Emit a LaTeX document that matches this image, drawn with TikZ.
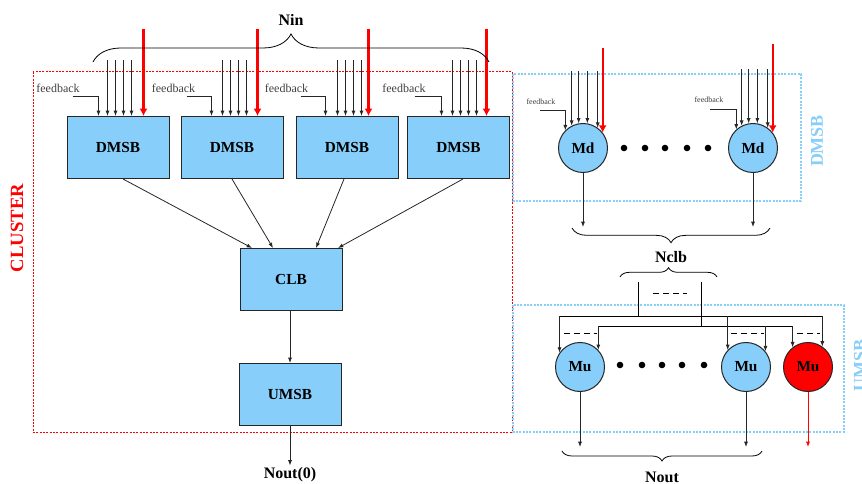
\documentclass[tikz,border=0pt]{standalone}
\usepackage{fontspec}
\setmainfont{Liberation Serif}
\usetikzlibrary{arrows.meta,calc,decorations.pathreplacing}
\definecolor{skyb}{RGB}{135,206,250}
\begin{document}
\begin{tikzpicture}[x=0.75pt,y=-0.75pt,
  blk/.style={draw=black!85, line width=0.75pt, fill=skyb, minimum width=76.5pt, minimum height=46.5pt, inner sep=0pt, font=\fontsize{11.5}{13}\selectfont\bfseries},
  circ/.style={circle, draw=black!85, line width=0.75pt, fill=skyb, minimum size=36.75pt, inner sep=0pt, font=\fontsize{11.5}{13}\selectfont\bfseries},
  arr/.style={-{Latex[length=4pt,width=3pt]}, line width=0.6pt, draw=black!85},
  redarr/.style={-{Latex[length=5.5pt,width=6pt]}, line width=1.6pt, draw=red},
  thinredarr/.style={-{Latex[length=4pt,width=3pt]}, line width=0.6pt, draw=red},
  fbtext/.style={font=\fontsize{9}{10}\selectfont, text=black!75, inner sep=0pt},
  fbsmall/.style={font=\fontsize{6}{7}\selectfont, text=black!75, inner sep=0pt},
  lbl/.style={font=\fontsize{12}{14}\selectfont\bfseries, inner sep=0pt},
  clusterbox/.style={draw=red, line width=0.75pt, dash pattern=on 1.5pt off 1pt},
  bluebox/.style={draw=skyb, line width=1pt, dash pattern=on 1.5pt off 1pt},
  dsh/.style={line width=0.6pt, dash pattern=on 4.5pt off 3pt},
  bracestyle/.style={decorate, line width=0.6pt}
]
\useasboundingbox (0,0) rectangle (862,484);

% ---------------- CLUSTER ----------------
\draw[clusterbox] (33,72) rectangle (512,432);
\node[rotate=90, text=red, font=\fontsize{14}{16}\selectfont\bfseries, inner sep=0pt] (clname) at (17,228) {CLUSTER};

\node[blk] (d1) at (118,147.5) {DMSB};
\node[blk] (d2) at (232,147.5) {DMSB};
\node[blk] (d3) at (347,147.5) {DMSB};
\node[blk] (d4) at (458.5,147.5) {DMSB};
\node[blk] (clb) at (291,279.5) {CLB};
\node[blk] (umsb) at (290,394.5) {UMSB};
\node[lbl] (nout0) at (290,475) {Nout(0)};

% inputs to DMSB boxes
\foreach \b/\o/\r in {d1/41/77, d2/42/77, d3/42/73, d4/45.5/79.5}{
  \foreach \k in {0,8,16,24}
    \draw[arr] ($(\b.north west)+(\o+\k,0)$) ++(0,-56) -- ++(0,56);
  \draw[redarr] ($(\b.north west)+(\r,0)$) ++(0,-87) -- ++(0,87);
}
% feedback
\foreach \b/\t/\s/\e [count=\i] in {d1/-8.5/6/32, d2/-7/6/31, d3/-9/5/30, d4/-3/7.5/34.5}{
  \node[fbtext] (fb\i) at ($(\b.north west)+(\t,-28)$) {feedback};
  \draw[arr] ($(\b.north west)+(\s,-20)$) -| ($(\b.north west)+(\e,0)$);
}

% Nin brace
\coordinate (ninL) at (93,62);
\coordinate (ninR) at (489,62);
\draw[bracestyle, decoration={brace, amplitude=21pt}] (ninL) -- (ninR);
\node[lbl] (nin) at (291,20) {Nin};

% DMSB -> CLB
\draw[arr] ($(d1.south)+(5,0)$) -- ($(clb.north)+(-39,0)$);
\draw[arr] ($(d2.south)+(0,0)$) -- ($(clb.north)+(-18,0)$);
\draw[arr] ($(d3.south)+(-3,0)$) -- ($(clb.north)+(25,0)$);
\draw[arr] ($(d4.south)+(4.5,0)$) -- ($(clb.north)+(47,0)$);
\draw[arr] (clb.south -| umsb.north) -- (umsb.north);
\draw[arr] (umsb.south) -- ($(nout0.north)+(0,-2)$);

% ---------------- DMSB detail ----------------
\draw[bluebox] (513,74) rectangle (801,201);
\node[rotate=90, text=skyb, font=\fontsize{13.5}{15}\selectfont\bfseries, inner sep=0pt] (dmsbname) at (817,141) {DMSB};

\node[circ] (md1) at (583,148) {Md};
\node[circ] (md2) at (753,148) {Md};
\foreach \x in {624,645,665,687,708} \fill (\x,148) circle (3.3);

\coordinate (mdtopA) at (0,71);
\coordinate (mdtopB) at (0,69);
\coordinate (mdredA) at (0,48);
\coordinate (mdredB) at (0,44);
\foreach \a in {117,100,80,54}{
  \draw[arr] (md1.\a |- mdtopA) -- (md1.\a);
  \draw[arr] (md2.\a |- mdtopB) -- (md2.\a);
}
\draw[redarr] (md1.38 |- mdredA) -- (md1.38);
\draw[redarr] (md2.38 |- mdredB) -- (md2.38);

\node[fbsmall] (fbm1) at (541,102) {feedback};
\node[fbsmall] (fbm2) at (709,100) {feedback};
\coordinate (fbs1) at (540,110);
\coordinate (fbs2) at (710,109);
\draw[arr] (fbs1) -| (md1.135);
\draw[arr] (fbs2) -| (md2.132);

\coordinate (mdend) at (0,227);
\draw[arr] (md1.south) -- (md1.south |- mdend);
\draw[arr] (md2.south) -- (md2.south |- mdend);

\coordinate (b1L) at (572,228);
\coordinate (b1R) at (770,228);
\draw[bracestyle, decoration={brace, amplitude=11pt}] (b1R) -- (b1L);
\node[lbl] (nclb) at (671,257) {Nclb};

% ---------------- UMSB detail ----------------
\draw[bluebox] (513,305) rectangle (844,432);
\node[rotate=90, text=skyb, font=\fontsize{13.5}{15}\selectfont\bfseries, inner sep=0pt] (umsbname) at (860,365) {UMSB};

\coordinate (b2L) at (620,277);
\coordinate (b2R) at (717,277);
\draw[bracestyle, decoration={brace, amplitude=7pt}] (b2L) -- (b2R);

\node[circ] (mu1) at (580,367) {Mu};
\node[circ] (mu2) at (746,367) {Mu};
\node[circ, fill=red] (mu3) at (808,367) {Mu};
\foreach \x in {620,642,662,682,704} \fill (\x,365) circle (3.3);

\coordinate (lA) at (0,316);
\coordinate (lB) at (0,326);
\coordinate (v1) at (638,282);
\coordinate (v2) at (701,282);
\draw[line width=0.6pt] (v1) -- (v1 |- lA);
\draw[line width=0.6pt] (v2) -- (v2 |- lB);
\draw[dsh] (653,293) -- (687,293);

\draw[line width=0.6pt] (mu1.145 |- lA) -- (mu3.55 |- lA);
\draw[line width=0.6pt] (mu1.43 |- lB) -- (mu3.128 |- lB);
\foreach \n/\a in {mu1/145, mu2/137, mu3/55} \draw[arr] (\n.\a |- lA) -- (\n.\a);
\foreach \n/\a in {mu1/43, mu2/39, mu3/128} \draw[arr] (\n.\a |- lB) -- (\n.\a);

\draw[dsh] (564,333) -- (597,333);
\draw[dsh] (731,333) -- (764,333);
\draw[dsh] (797,333) -- (820,333);

\coordinate (muend) at (0,447);
\draw[arr] (mu1.south) -- (mu1.south |- muend);
\draw[arr] (mu2.south) -- (mu2.south |- muend);
\draw[thinredarr] (mu3.south) -- (mu3.south |- muend);

\coordinate (b3L) at (562,451);
\coordinate (b3R) at (762,451);
\draw[bracestyle, decoration={brace, amplitude=7.5pt}] (b3R) -- (b3L);
\node[lbl] (nout) at (662,477) {Nout};
\end{tikzpicture}
\end{document}
